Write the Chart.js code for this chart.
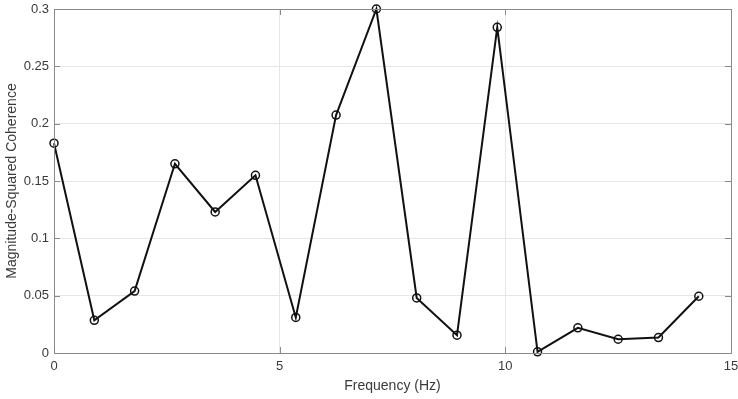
<!DOCTYPE html>
<html lang="en">
<head>
    <meta charset="UTF-8">
    <title>Magnitude-Squared Coherence</title>
    <script src="https://cdn.jsdelivr.net/npm/chart.js@4.4.0/dist/chart.umd.min.js"></script>
    <style>
        body {
            margin: 0;
            padding: 0;
            background-color: #ffffff;
        }
        .chart-container {
            position: relative;
            width: 738px;
            height: 399px;
        }
    </style>
</head>
<body>
    <div class="chart-container">
        <canvas id="cohChart" width="738" height="399"></canvas>
    </div>

    <script>
        // Frequencies (Hz) and coherence values
        const frequencies = [0, 0.893, 1.786, 2.679, 3.571, 4.464, 5.357, 6.25, 7.143,
                             8.036, 8.929, 9.821, 10.714, 11.607, 12.5, 13.393, 14.286];
        const coherence = [0.183, 0.0285, 0.054, 0.165, 0.123, 0.155, 0.031, 0.2075, 0.300,
                           0.048, 0.0155, 0.284, 0.001, 0.022, 0.012, 0.0135, 0.0495];

        const xTicks = [0, 5, 10, 15];
        const yTicks = [0, 0.05, 0.1, 0.15, 0.2, 0.25, 0.3];

        const axisColor = '#8a8a8a';
        const textColor = '#3a3a3a';
        const fontFamily = "'Liberation Sans', Arial, Helvetica, sans-serif";

        // MATLAB-style box with inward ticks on all four sides
        const boxPlugin = {
            id: 'boxPlugin',
            afterDraw(chart) {
                const { ctx, chartArea: a, scales } = chart;
                const len = 6;
                ctx.save();
                ctx.strokeStyle = axisColor;
                ctx.lineWidth = 1;
                ctx.beginPath();
                xTicks.forEach(t => {
                    const px = Math.round(scales.x.getPixelForValue(t)) + 0.5;
                    ctx.moveTo(px, a.bottom);
                    ctx.lineTo(px, a.bottom - len);
                    ctx.moveTo(px, a.top);
                    ctx.lineTo(px, a.top + len);
                });
                yTicks.forEach(t => {
                    const py = Math.round(scales.y.getPixelForValue(t)) + 0.5;
                    ctx.moveTo(a.left, py);
                    ctx.lineTo(a.left + len, py);
                    ctx.moveTo(a.right, py);
                    ctx.lineTo(a.right - len, py);
                });
                ctx.stroke();
                ctx.strokeRect(Math.round(a.left) + 0.5, Math.round(a.top) + 0.5,
                               Math.round(a.right - a.left), Math.round(a.bottom - a.top));
                ctx.restore();
            }
        };

        // keep tick labels from pushing the plot area around
        function noLabelPadding(scale) {
            scale.paddingLeft = 0;
            scale.paddingRight = 0;
            scale.paddingTop = 0;
            scale.paddingBottom = 0;
        }

        const ctx = document.getElementById('cohChart').getContext('2d');

        const cohChart = new Chart(ctx, {
            type: 'scatter',
            data: {
                datasets: [{
                    label: 'Coherence',
                    data: frequencies.map((f, i) => ({ x: f, y: coherence[i] })),
                    showLine: true,
                    clip: false,
                    borderColor: '#111111',
                    borderWidth: 2,
                    pointStyle: 'circle',
                    pointRadius: 4,
                    pointBorderWidth: 1.5,
                    pointBorderColor: '#111111',
                    pointBackgroundColor: 'rgba(0,0,0,0)',
                    tension: 0
                }]
            },
            options: {
                responsive: false,
                animation: false,
                layout: {
                    padding: { left: 0, right: 7, top: 9, bottom: 0 }
                },
                scales: {
                    x: {
                        type: 'linear',
                        min: 0,
                        max: 15,
                        afterBuildTicks(scale) {
                            scale.ticks = xTicks.map(v => ({ value: v }));
                        },
                        afterFit(scale) {
                            scale.height = 46;
                            noLabelPadding(scale);
                        },
                        ticks: {
                            color: textColor,
                            font: { family: fontFamily, size: 13 },
                            padding: 6,
                            maxRotation: 0,
                            callback: v => String(v)
                        },
                        grid: {
                            color: '#e6e6e6',
                            drawTicks: false
                        },
                        border: { display: false },
                        title: {
                            display: true,
                            text: 'Frequency (Hz)',
                            color: textColor,
                            font: { family: fontFamily, size: 14 },
                            padding: { top: 0, bottom: 4 }
                        }
                    },
                    y: {
                        min: 0,
                        max: 0.3,
                        afterBuildTicks(scale) {
                            scale.ticks = yTicks.map(v => ({ value: v }));
                        },
                        afterFit(scale) {
                            scale.width = 54;
                            noLabelPadding(scale);
                        },
                        ticks: {
                            color: textColor,
                            font: { family: fontFamily, size: 13 },
                            padding: 5,
                            callback: v => String(+v.toFixed(2))
                        },
                        grid: {
                            color: '#e6e6e6',
                            drawTicks: false
                        },
                        border: { display: false },
                        title: {
                            display: true,
                            text: 'Magnitude-Squared Coherence',
                            color: textColor,
                            font: { family: fontFamily, size: 14 },
                            padding: { top: 4, bottom: 0 }
                        }
                    }
                },
                plugins: {
                    legend: { display: false },
                    tooltip: { enabled: false }
                }
            },
            plugins: [boxPlugin]
        });
    </script>
</body>
</html>
